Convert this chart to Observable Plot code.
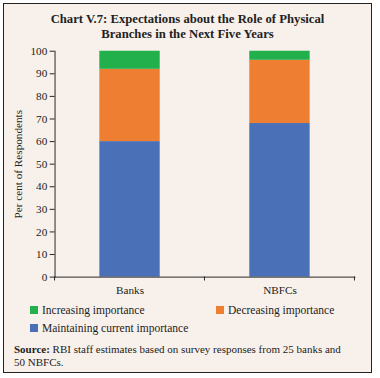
<!DOCTYPE html>
<html><head><meta charset="utf-8">
<script src="https://cdn.jsdelivr.net/npm/d3@7"></script>
<script src="https://cdn.jsdelivr.net/npm/@observablehq/plot@0.6"></script>
<style>
html,body{margin:0;padding:0;background:#fff;}
#box{position:absolute;left:3px;top:3px;width:367px;height:368px;border:1.5px solid #222;background:#f8f1eb;font-family:"Liberation Serif",serif;color:#222;}
#title{position:absolute;left:0;top:8px;width:100%;text-align:center;font-weight:bold;font-size:12.7px;line-height:15px;}
#chart{position:absolute;left:-3px;top:37px;}
.leg{position:absolute;font-size:11.5px;display:flex;align-items:center;}
.sw{width:8px;height:8px;margin-right:4px;display:inline-block;}
#src{position:absolute;left:10px;top:339px;width:360px;font-size:11px;line-height:13px;}
</style></head>
<body>
<div id="box">
<div id="title">Chart V.7: Expectations about the Role of Physical<br>Branches in the Next Five Years</div>
<div id="chart"></div>
<div id="legend"></div>
<div id="src"><b>Source:</b> RBI staff estimates based on survey responses from 25 banks and<br>50 NBFCs.</div>
</div>
<script>
const categories = ["Banks", "NBFCs"];
const seriesNames = ["Maintaining current importance", "Decreasing importance", "Increasing importance"];
const maintaining = [60, 68];
const decreasing = [32, 28];
const increasing = [8, 4];
const colors = ["#4a71b7", "#ee7f32", "#21b04b"];
const yTicks = [0,10,20,30,40,50,60,70,80,90,100];

const seriesVals = [maintaining, decreasing, increasing];
const data = [];
seriesNames.forEach((s, i) => categories.forEach((c, j) => data.push({cat: c, series: s, value: seriesVals[i][j]})));

const boundaryTicks = (index, scales, values, dims) => {
  const g = d3.create("svg:g");
  const bw = scales.x.bandwidth ? scales.x.bandwidth() : 0;
  const step = scales.x.step ? scales.x.step() : bw;
  const xs = categories.map(c => scales.x(c) - (step - bw)/2);
  xs.push(scales.x(categories[categories.length-1]) + bw + (step - bw)/2);
  const y0 = dims.height - dims.marginBottom;
  xs.forEach(x => g.append("line").attr("x1", x).attr("x2", x).attr("y1", y0).attr("y2", y0 + 4).attr("stroke", "#222"));
  return g.node();
};

const plot = Plot.plot({
  width: 380, height: 264,
  marginTop: 10, marginLeft: 55, marginRight: 17, marginBottom: 22,
  style: {background: "transparent", fontFamily: "Liberation Serif, serif", fontSize: "11.5px", color: "#222"},
  x: {domain: categories, paddingInner: 0.6, paddingOuter: 0.3, label: null},
  y: {domain: [0, 100], ticks: yTicks, label: null},
  color: {domain: seriesNames, range: colors},
  marks: [
    Plot.barY(data, {x: "cat", y: "value", fill: "series", order: seriesNames}),
    Plot.axisY({ticks: yTicks, tickSize: 5, tickPadding: 3, label: "Per cent of Respondents", labelAnchor: "center", labelArrow: "none", labelOffset: 42, fontSize: 11.5}),
    Plot.axisX({tickSize: 0, tickPadding: 9, label: null, fontSize: 11.5}),
    Plot.frame({anchor: "left", stroke: "#222"}),
    Plot.frame({anchor: "bottom", stroke: "#222"}),
    boundaryTicks
  ]
});
document.getElementById("chart").appendChild(plot);

const legendItems = [
  {name: "Increasing importance", color: colors[2], left: 26, top: 300},
  {name: "Decreasing importance", color: colors[1], left: 212, top: 300},
  {name: "Maintaining current importance", color: colors[0], left: 26, top: 318}
];
const leg = document.getElementById("legend");
legendItems.forEach(it => {
  const d = document.createElement("div");
  d.className = "leg";
  d.style.left = it.left + "px"; d.style.top = it.top + "px";
  d.innerHTML = `<span class="sw" style="background:${it.color}"></span>${it.name}`;
  leg.appendChild(d);
});
</script>
</body></html>
